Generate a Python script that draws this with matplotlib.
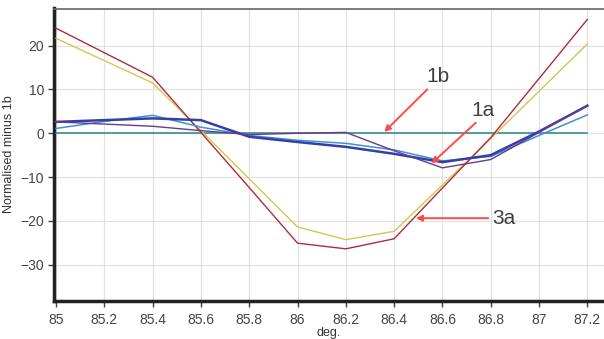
import matplotlib
matplotlib.use("Agg")
from matplotlib import pyplot as plt

plt.rcParams['font.family'] = ['Liberation Sans', 'DejaVu Sans']

# Dados (graus vs. normalizado menos 1b)
deg = [85.0, 85.2, 85.4, 85.6, 85.8, 86.0, 86.2, 86.4, 86.6, 86.8, 87.0, 87.2]
serie_1b = [0, 0, 0, 0, 0, 0, 0, 0, 0, 0, 0, 0]
serie_3a = [24.0, 18.4, 12.8, 0.2, -12.4, -25.1, -26.4, -24.1, -12.5, -1.0, 12.5, 26.0]
serie_amarela = [21.7, 16.6, 11.5, 0.6, -10.4, -21.4, -24.3, -22.4, -11.8, -1.2, 9.6, 20.4]
serie_roxa = [2.6, 2.1, 1.6, 0.6, -0.3, 0.0, 0.2, -4.0, -7.9, -6.0, 0.2, 6.4]
serie_azul_escuro = [2.6, 3.0, 3.4, 3.0, -0.8, -2.0, -3.1, -4.7, -6.6, -5.0, 0.4, 6.3]
serie_1a = [1.1, 2.7, 4.1, 1.4, -0.5, -1.6, -2.3, -3.8, -6.3, -5.3, -0.5, 4.2]

fig = plt.figure(figsize=(6.04, 3.39), dpi=100)
ax = fig.add_axes([54 / 604, (339 - 300.5) / 339, 1 - 54 / 604, (300.5 - 8.5) / 339])

ax.plot(deg, serie_1b, color='#2b8585', lw=1.1, zorder=3)
ax.plot(deg, serie_amarela, color='#d2c850', lw=1.0, zorder=3)
ax.plot(deg, serie_3a, color='#b02a40', lw=1.0, zorder=3)
ax.plot(deg, serie_1a, color='#3d92d8', lw=1.1, zorder=3)
ax.plot(deg, serie_azul_escuro, color='#3440a8', lw=1.8, zorder=3)
ax.plot(deg, serie_roxa, color='#6a3a8e', lw=1.0, zorder=4)

ax.set_xlim(84.9917, 87.269)
ax.set_ylim(-38.2, 28.5)
ax.set_xticks([85, 85.2, 85.4, 85.6, 85.8, 86, 86.2, 86.4, 86.6, 86.8, 87, 87.2])
ax.set_xticklabels(['85', '85.2', '85.4', '85.6', '85.8', '86', '86.2', '86.4',
                    '86.6', '86.8', '87', '87.2'])
ax.set_yticks([-30, -20, -10, 0, 10, 20])
ax.tick_params(labelsize=10, colors='#444444', length=4, width=1)
ax.tick_params(axis='x', pad=5)
ax.tick_params(axis='y', pad=3)
ax.grid(True, color='#e2e2e2', lw=0.9)
ax.set_axisbelow(True)

ax.spines['left'].set_linewidth(2.5)
ax.spines['bottom'].set_linewidth(2.5)
ax.spines['left'].set_color('#222222')
ax.spines['bottom'].set_color('#222222')
ax.spines['top'].set_color('#666666')
ax.spines['top'].set_linewidth(1.2)
ax.spines['right'].set_visible(False)

ax.set_xlabel('deg.', fontsize=9, color='#333333', labelpad=0)
ax.set_ylabel('Normalised minus 1b', fontsize=9, color='#333333', labelpad=4)

seta = dict(arrowstyle='-|>', mutation_scale=9, color='#ff4a4a', lw=1.4,
            shrinkA=0, shrinkB=0)
ax.annotate('', xy=(86.359, 0.3), xytext=(86.537, 10.0), arrowprops=seta)
ax.text(86.58, 12.9, '1b', fontsize=15, color='#404040', ha='center', va='center')
ax.annotate('', xy=(86.555, -6.9), xytext=(86.738, 2.4), arrowprops=seta)
ax.text(86.77, 5.1, '1a', fontsize=15, color='#404040', ha='center', va='center')
ax.annotate('', xy=(86.49, -19.4), xytext=(86.79, -19.4), arrowprops=seta)
ax.text(86.855, -19.4, '3a', fontsize=15, color='#404040', ha='center', va='center')

fig.savefig('out.png', dpi=100)
